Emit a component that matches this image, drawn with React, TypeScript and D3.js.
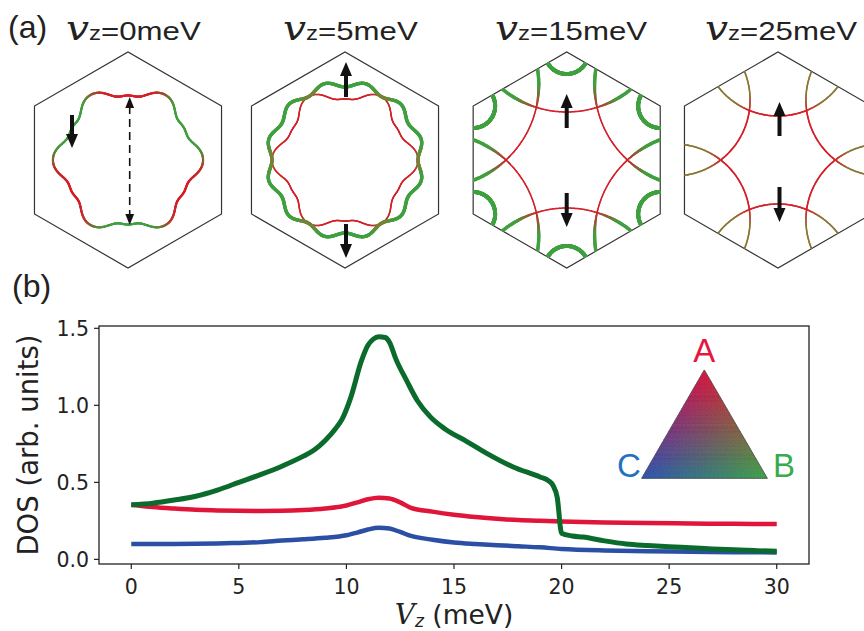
import * as d3 from "d3";
import React from "react";

// ---- panel (b): DOS curves ----
const greenX = [0, 1, 2, 3, 4, 5, 6, 7, 8, 8.5, 9, 9.5, 9.8, 10.2, 10.7, 11, 11.25, 11.5, 11.8, 12, 12.3, 12.8, 13.3, 13.9, 14.6, 15.6, 16.5, 17.75, 19, 19.4, 19.6, 19.8, 20, 20.5, 21, 22, 23, 24, 25, 26, 27, 28, 29, 30];
const greenY = [0.355, 0.365, 0.385, 0.41, 0.45, 0.5, 0.55, 0.605, 0.67, 0.71, 0.77, 0.85, 0.91, 1.05, 1.29, 1.39, 1.43, 1.445, 1.44, 1.41, 1.3, 1.16, 1.03, 0.925, 0.845, 0.765, 0.69, 0.6, 0.535, 0.51, 0.48, 0.4, 0.17, 0.152, 0.145, 0.12, 0.1, 0.09, 0.082, 0.075, 0.068, 0.062, 0.057, 0.052];

const redX = [0, 1, 2, 3, 4, 5, 6, 7, 8, 9, 10, 10.5, 11, 11.5, 12, 12.5, 13, 14, 15, 16, 17, 18, 19, 20, 22, 24, 26, 28, 30];
const redY = [0.355, 0.34, 0.33, 0.322, 0.318, 0.315, 0.314, 0.315, 0.32, 0.33, 0.35, 0.37, 0.39, 0.4, 0.395, 0.37, 0.335, 0.31, 0.29, 0.275, 0.263, 0.255, 0.25, 0.246, 0.24, 0.236, 0.233, 0.231, 0.23];

const blueX = [0, 2, 4, 5, 6, 7, 8, 9, 10, 10.5, 11, 11.5, 12, 12.5, 13, 14, 15, 16, 17, 18, 19, 20, 22, 24, 26, 28, 30];
const blueY = [0.1, 0.1, 0.103, 0.107, 0.112, 0.122, 0.13, 0.14, 0.157, 0.174, 0.194, 0.206, 0.2, 0.178, 0.152, 0.128, 0.11, 0.1, 0.092, 0.085, 0.078, 0.068, 0.058, 0.053, 0.05, 0.047, 0.045];

const xTicks = [0, 5, 10, 15, 20, 25, 30];
const yTicks = [0, 0.5, 1.0, 1.5];

// ---- panel (a) ----
const panelValues = ["0", "5", "15", "25"];
const cornerLabels = ["A", "B", "C"];

const W = 864;
const H = 631;

const x = d3.scaleLinear().domain([-1.5, 31.5]).range([99, 809]);
const y = d3.scaleLinear().domain([-0.03, 1.515]).range([564, 326]);

const rad = (d: number) => (d * Math.PI) / 180;
const angleDiff = (a: number, b: number) => Math.atan2(Math.sin(a - b), Math.cos(a - b));
const clamp01 = (v: number) => Math.max(0, Math.min(1, v));

const GREEN_A = "#40a040";
const RED_A = "#d41f28";
const BROWN_A = "#8a7634";
const mixGR = d3.interpolateRgb(GREEN_A, RED_A);

type Pt = { x: number; y: number; c: string; w: number };
type Seg = { x1: number; y1: number; x2: number; y2: number; c: string; w: number };

function toSegs(pts: Pt[], closed: boolean): Seg[] {
  const out: Seg[] = [];
  const n = pts.length;
  for (let i = 0; i < (closed ? n : n - 1); i++) {
    const a = pts[i];
    const b = pts[(i + 1) % n];
    out.push({ x1: a.x, y1: a.y, x2: b.x, y2: b.y, c: a.c, w: (a.w + b.w) / 2 });
  }
  return out;
}

const hexR = 108;
const hexCy = 160;
const hexCx = [128, 345, 566.7, 778];
const titleX = [66, 283, 495, 705];

function hexPoly(cx: number, cy: number) {
  return d3.range(6).map((k) => {
    const a = rad(30 + 60 * k);
    return [cx + hexR * Math.cos(a), cy - hexR * Math.sin(a)] as [number, number];
  });
}

function radial(cx: number, cy: number, rFn: (t: number) => number, colFn: (t: number) => string, w: number) {
  const pts: Pt[] = d3.range(720).map((i) => {
    const t = rad(i / 2);
    const r = rFn(t);
    return { x: cx + r * Math.cos(t), y: cy - r * Math.sin(t), c: colFn(t), w };
  });
  return toSegs(pts, true);
}

function nearCross(t: number) {
  const d = Math.abs(angleDiff(t * 6, 0)) / 6;
  return Math.exp(-Math.pow(d / rad(7), 2));
}

// rounded hexagon with slightly concave sides, corners toward the zone's edge midpoints
const roundHex = (a0: number, a1: number, a2: number, a3: number) => (t: number) =>
  a0 + a1 * Math.cos(6 * t) + a2 * Math.cos(12 * t) + a3 * Math.cos(18 * t);

function panel1(cx: number): Seg[] {
  return radial(
    cx,
    hexCy,
    roundHex(68.4, 5.75, 1.4, -0.5),
    (t) => mixGR(0.5 - (0.5 * Math.tanh(2.5 * Math.sin(3 * t))) / Math.tanh(2.5)),
    2.2
  );
}

function panel2(cx: number): Seg[] {
  const g = radial(
    cx,
    hexCy,
    (t) => 76 - 3 * Math.cos(12 * t),
    (t) => d3.interpolateRgb(GREEN_A, BROWN_A)(0.8 * nearCross(t)),
    3.4
  );
  const r = radial(
    cx,
    hexCy,
    roundHex(66, 6.5, 1, -0.5),
    (t) => d3.interpolateRgb(RED_A, BROWN_A)(0.7 * nearCross(t)),
    1.5
  );
  return [...r, ...g];
}

function arcs(cx: number, D: number, rho: number, outer: string, wIn: number, wOut: number): Seg[] {
  const out: Seg[] = [];
  const dCross = D * Math.cos(rad(30)) - Math.sqrt(rho * rho - D * D * 0.25);
  const mix = d3.interpolateRgb(RED_A, outer);
  for (let k = 0; k < 6; k++) {
    const phi = rad(30 + 60 * k);
    const Cx = D * Math.cos(phi);
    const Cy = D * Math.sin(phi);
    const qx = dCross * Math.cos(phi + rad(30));
    const qy = dCross * Math.sin(phi + rad(30));
    const alpha = Math.abs(angleDiff(Math.atan2(qy - Cy, qx - Cx), phi + Math.PI));
    const pts: Pt[] = d3.range(0, 361).map((i) => {
      const psi = rad(i);
      const delta = Math.abs(angleDiff(psi, phi + Math.PI));
      const t = clamp01((delta - alpha + rad(1)) / rad(14));
      return {
        x: cx + Cx + rho * Math.cos(psi),
        y: hexCy - (Cy + rho * Math.sin(psi)),
        c: mix(t),
        w: wIn + (wOut - wIn) * t,
      };
    });
    out.push(...toSegs(pts, false));
  }
  return out;
}

function pockets(cx: number): Seg[] {
  const out: Seg[] = [];
  hexPoly(cx, hexCy).forEach(([vx, vy]) => {
    const pts: Pt[] = d3.range(360).map((i) => ({
      x: vx + 22 * Math.cos(rad(i)),
      y: vy + 22 * Math.sin(rad(i)),
      c: GREEN_A,
      w: 4,
    }));
    out.push(...toSegs(pts, true));
  });
  return out;
}

const panelSegs: Seg[][] = [
  panel1(hexCx[0]),
  panel2(hexCx[1]),
  [...arcs(hexCx[2], 150, 102, GREEN_A, 1.5, 3.4), ...pockets(hexCx[2])],
  arcs(hexCx[3], 120, 76, BROWN_A, 1.6, 1.6),
];

// solid arrows: [x, tail y, tip y]
const arrows: [number, number, number][] = [
  [72, 115, 148],
  [346, 97, 62],
  [346, 224, 258],
  [566.7, 128, 94],
  [566.7, 193, 227],
  [779.5, 136, 102],
  [779.5, 187, 222],
];

function Arrow({ a }: { a: [number, number, number] }) {
  const [ax, y0, y1] = a;
  const dir = Math.sign(y1 - y0);
  const head = 13;
  return (
    <g>
      <line x1={ax} x2={ax} y1={y0} y2={y1 - dir * head} stroke="#111" strokeWidth={4} />
      <path d={`M${ax},${y1} L${ax - 6},${y1 - dir * (head + 1)} L${ax + 6},${y1 - dir * (head + 1)} Z`} fill="#111" />
    </g>
  );
}

// colour triangle legend
const triT: [number, number] = [704.3, 370];
const triL: [number, number] = [641.7, 478.3];
const triR: [number, number] = [767.3, 478.3];
const colA = d3.rgb("#d8103c");
const colB = d3.rgb("#3aa048");
const colC = d3.rgb("#2a52ad");

function triCells() {
  const N = 28;
  const grid = (i: number, j: number) => {
    const a = 1 - i / N;
    const b = j / N;
    const c = (i - j) / N;
    return {
      p: [a * triT[0] + b * triR[0] + c * triL[0], a * triT[1] + b * triR[1] + c * triL[1]],
      w: [a, b, c],
    };
  };
  const cells: { d: string; fill: string }[] = [];
  const push = (ps: ReturnType<typeof grid>[]) => {
    const w = [0, 1, 2].map((k) => (ps[0].w[k] + ps[1].w[k] + ps[2].w[k]) / 3);
    const col = d3.rgb(
      w[0] * colA.r + w[1] * colB.r + w[2] * colC.r,
      w[0] * colA.g + w[1] * colB.g + w[2] * colC.g,
      w[0] * colA.b + w[1] * colB.b + w[2] * colC.b
    );
    cells.push({ d: `M${ps.map((q) => q.p.join(",")).join("L")}Z`, fill: col.formatHex() });
  };
  for (let i = 0; i < N; i++) {
    for (let j = 0; j <= i; j++) push([grid(i, j), grid(i + 1, j), grid(i + 1, j + 1)]);
    for (let j = 0; j < i; j++) push([grid(i, j), grid(i, j + 1), grid(i + 1, j + 1)]);
  }
  return cells;
}

const lineGen = d3
  .line<[number, number]>()
  .x((d) => x(d[0]))
  .y((d) => y(d[1]))
  .curve(d3.curveMonotoneX);

const zip = (xs: number[], ys: number[]) => xs.map((v, i) => [v, ys[i]] as [number, number]);

export default function App() {
  const cells = triCells();
  const titleFont = "'Liberation Sans', Arial, sans-serif";
  const mplFont = "'DejaVu Sans', sans-serif";
  return (
    <div style={{ position: "absolute", left: 0, top: 0 }}>
      <svg width={W} height={H} style={{ display: "block", background: "#fff" }}>
        <defs>
          {hexCx.map((cx, i) => (
            <clipPath id={`hex${i}`} key={i}>
              <polygon points={hexPoly(cx, hexCy).map((p) => p.join(",")).join(" ")} />
            </clipPath>
          ))}
        </defs>

        {/* panel (a) */}
        <text x={8} y={38} fontFamily={titleFont} fontSize={32} fill="#222">(a)</text>
        {panelValues.map((v, i) => (
          <text key={i} transform={`translate(${titleX[i]},40) scale(1.2,1)`} fontFamily={titleFont} fontSize={26} fill="#222">
            <tspan fontFamily="'DejaVu Serif', serif" fontStyle="italic" fontSize={34}>v</tspan>
            <tspan fontSize={20}>z</tspan>
            <tspan>={v}meV</tspan>
          </text>
        ))}
        {hexCx.map((cx, i) => (
          <g key={i}>
            <polygon
              points={hexPoly(cx, hexCy).map((p) => p.join(",")).join(" ")}
              fill="none"
              stroke="#333"
              strokeWidth={1.2}
            />
            <g clipPath={i >= 2 ? `url(#hex${i})` : undefined}>
              {panelSegs[i].map((s, j) => (
                <line key={j} x1={s.x1} y1={s.y1} x2={s.x2} y2={s.y2} stroke={s.c} strokeWidth={s.w} strokeLinecap="round" />
              ))}
            </g>
          </g>
        ))}
        {arrows.map((a, i) => (
          <Arrow key={i} a={a} />
        ))}
        {/* dashed double arrow */}
        <line x1={129.7} x2={129.7} y1={106} y2={216} stroke="#111" strokeWidth={1.6} strokeDasharray="8,5" />
        <path d="M129.7,97 L125.3,108 L134.1,108 Z" fill="#111" />
        <path d="M129.7,225 L125.3,214 L134.1,214 Z" fill="#111" />

        {/* panel (b) */}
        <text x={12} y={297} fontFamily={titleFont} fontSize={32} fill="#222">(b)</text>

        <path d={lineGen(zip(blueX, blueY)) || ""} fill="none" stroke="#2b4fa5" strokeWidth={4.5} strokeLinejoin="round" />
        <path d={lineGen(zip(redX, redY)) || ""} fill="none" stroke="#e0153a" strokeWidth={4.5} strokeLinejoin="round" />
        <path d={lineGen(zip(greenX, greenY)) || ""} fill="none" stroke="#0b6b2c" strokeWidth={5} strokeLinejoin="round" />

        <rect x={99} y={326} width={710} height={238} fill="none" stroke="#222" strokeWidth={1.3} />
        {xTicks.map((t) => (
          <g key={t}>
            <line x1={x(t)} x2={x(t)} y1={564} y2={569} stroke="#222" strokeWidth={1.2} />
            <text x={x(t)} y={593.5} textAnchor="middle" fontFamily={mplFont} fontSize={20.5} fill="#222">
              {t}
            </text>
          </g>
        ))}
        {yTicks.map((t) => (
          <g key={t}>
            <line x1={94} x2={99} y1={y(t)} y2={y(t)} stroke="#222" strokeWidth={1.2} />
            <text x={89} y={y(t) + 7.5} textAnchor="end" fontFamily={mplFont} fontSize={20.5} fill="#222">
              {t.toFixed(1)}
            </text>
          </g>
        ))}
        <text
          transform="translate(38,445) rotate(-90)"
          textAnchor="middle"
          fontFamily={mplFont}
          fontSize={27.5}
          fill="#222"
        >
          DOS (arb. units)
        </text>
        <text x={454} y={624} textAnchor="middle" fontFamily={mplFont} fontSize={26.5} fill="#222">
          <tspan fontFamily="'DejaVu Serif', serif" fontStyle="italic" fontSize={28}>V</tspan>
          <tspan fontStyle="italic" fontSize={17} dy={3}>z</tspan>
          <tspan dy={-3}> (meV)</tspan>
        </text>

        {/* colour triangle */}
        <g>
          {cells.map((c, i) => (
            <path key={i} d={c.d} fill={c.fill} stroke={c.fill} strokeWidth={0.6} />
          ))}
          <polygon points={[triT, triL, triR].map((p) => p.join(",")).join(" ")} fill="none" stroke="#555" strokeWidth={0.8} />
        </g>
        <text x={704.3} y={362} textAnchor="middle" fontFamily={titleFont} fontSize={33} fill="#e4173e">
          {cornerLabels[0]}
        </text>
        <text x={773} y={477} fontFamily={titleFont} fontSize={33} fill="#3aaa50">
          {cornerLabels[1]}
        </text>
        <text x={617} y={477} fontFamily={titleFont} fontSize={33} fill="#1f72c0">
          {cornerLabels[2]}
        </text>
      </svg>
    </div>
  );
}
